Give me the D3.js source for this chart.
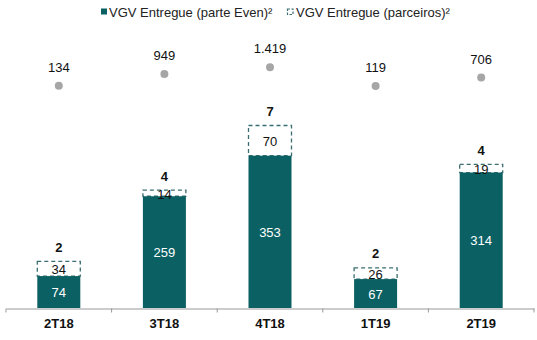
<!DOCTYPE html>
<html><head><meta charset="utf-8">
<script src="https://cdn.jsdelivr.net/npm/d3@7"></script>
<style>body{margin:0;background:#fff}svg{display:block;font-family:"Liberation Sans",Arial,sans-serif}</style>
</head><body>
<svg id="c" width="537" height="340"></svg>
<script>
const categories = ["2T18","3T18","4T18","1T19","2T19"];
const vgvEven = [74,259,353,67,314];
const vgvPartners = [34,14,70,26,19];
const partnerCounts = [2,4,7,2,4];
const totalVgv = [134,949,1419,119,706];
const totalLabels = ["134","949","1.419","119","706"];
const legendLabels = ["VGV Entregue (parte Even)²","VGV Entregue (parceiros)²"];

const teal = "#0b6063", dashCol = "#3b6e70", dotCol = "#a6a6a6";
const svg = d3.select("#c");
const x = d3.scaleBand().domain(categories).range([6,534]).paddingInner(0).paddingOuter(0);
const y = d3.scaleLinear().domain([0,423]).range([308,125.5]);
const yDot = d3.scaleLinear().domain([119,1419]).range([86,67.3]);
const bw = 43;
const cx = c => x(c) + x.bandwidth()/2;

// partner (dashed) boxes
svg.selectAll("rect.p").data(categories).join("rect").attr("class","p")
  .attr("x", c => cx(c)-bw/2)
  .attr("y", (c,i) => y(vgvEven[i]+vgvPartners[i]))
  .attr("width", bw)
  .attr("height", (c,i) => y(vgvEven[i]) - y(vgvEven[i]+vgvPartners[i]))
  .attr("fill","#fff").attr("stroke",dashCol).attr("stroke-width",1.3).attr("stroke-dasharray","4,3");

// solid bars
svg.selectAll("rect.e").data(categories).join("rect").attr("class","e")
  .attr("x", c => cx(c)-bw/2)
  .attr("y", (c,i) => y(vgvEven[i]))
  .attr("width", bw)
  .attr("height", (c,i) => y(0) - y(vgvEven[i]))
  .attr("fill", teal);

// axis
const axis = d3.axisBottom(x).tickSize(0).tickPadding(10);
const ag = svg.append("g").attr("transform","translate(0,308.5)").call(axis);
ag.select(".domain").attr("stroke","#999").attr("stroke-width",1.2);
ag.selectAll("text").attr("font-size",13).attr("font-weight","bold").attr("fill","#111")
  .attr("font-family","Liberation Sans, Arial, sans-serif");
// tick marks at band boundaries
const bounds = categories.map(c => x(c)).concat([x.range()[1]]);
ag.selectAll("line.b").data(bounds).join("line").attr("class","b")
  .attr("x1", d => d).attr("x2", d => d).attr("y1",0).attr("y2",4)
  .attr("stroke","#999").attr("stroke-width",1);

// labels inside solid bars
svg.selectAll("text.ev").data(categories).join("text").attr("class","ev")
  .attr("x", cx).attr("y", (c,i) => (y(0)+y(vgvEven[i]))/2 + 5)
  .attr("text-anchor","middle").attr("font-size",13).attr("fill","#fff")
  .text((c,i) => vgvEven[i]);

// partner labels
svg.selectAll("text.pv").data(categories).join("text").attr("class","pv")
  .attr("x", cx).attr("y", (c,i) => (y(vgvEven[i])+y(vgvEven[i]+vgvPartners[i]))/2 + 5.5)
  .attr("text-anchor","middle").attr("font-size",13).attr("fill","#111")
  .text((c,i) => vgvPartners[i]);

// partner counts
svg.selectAll("text.pc").data(categories).join("text").attr("class","pc")
  .attr("x", cx).attr("y", (c,i) => y(vgvEven[i]+vgvPartners[i]) - 9.5)
  .attr("text-anchor","middle").attr("font-size",13).attr("font-weight","bold").attr("fill","#111")
  .text((c,i) => partnerCounts[i]);

// dots
svg.selectAll("circle.d").data(categories).join("circle").attr("class","d")
  .attr("cx", cx).attr("cy", (c,i) => yDot(totalVgv[i])).attr("r",4).attr("fill",dotCol);
svg.selectAll("text.dl").data(categories).join("text").attr("class","dl")
  .attr("x", cx).attr("y", (c,i) => yDot(totalVgv[i]) - 14)
  .attr("text-anchor","middle").attr("font-size",13).attr("fill","#111")
  .text((c,i) => totalLabels[i]);

// legend
const lg = svg.append("g");
lg.append("rect").attr("x",101).attr("y",8.5).attr("width",6).attr("height",6).attr("fill",teal);
lg.append("text").attr("x",109).attr("y",16.5).attr("font-size",13).attr("fill","#222").text(legendLabels[0]);
lg.append("rect").attr("x",287.5).attr("y",9).attr("width",5.5).attr("height",5.5)
  .attr("fill","#fff").attr("stroke",dashCol).attr("stroke-width",1.2).attr("stroke-dasharray","2.5,1.5");
lg.append("text").attr("x",296).attr("y",16.5).attr("font-size",13).attr("fill","#222").text(legendLabels[1]);
</script>
</body></html>
